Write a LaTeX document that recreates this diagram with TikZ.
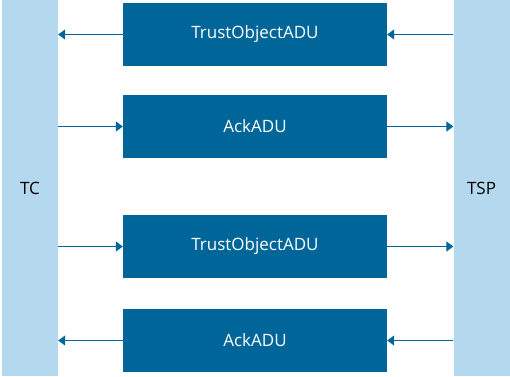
\documentclass[tikz,border=0pt]{standalone}
\usepackage{fontspec}
\setmainfont{Open Sans}
\usetikzlibrary{arrows.meta}
\definecolor{deepblue}{RGB}{0,102,153}
\definecolor{paleblue}{RGB}{180,216,238}
\begin{document}
\begin{tikzpicture}[x=1pt,y=-1pt,
  party/.style={fill=paleblue,draw=none,minimum width=56pt,minimum height=376pt,inner sep=0pt,font=\fontsize{17}{20}\selectfont,text=black},
  msgbox/.style={fill=deepblue,draw=none,minimum width=264pt,minimum height=63pt,inner sep=0pt,font=\fontsize{17}{20}\selectfont,text=white},
  msg/.style={draw=deepblue,line width=1.3pt,-{Triangle[length=7pt,width=10pt]},color=deepblue}]
\useasboundingbox (0,0) rectangle (510,376);
\node[party] (tc) at (30,188) {TC};
\node[party] (tsp) at (481.5,188) {TSP};
\node[msgbox] (m1) at (255,34.5) {TrustObjectADU};
\node[msgbox] (m2) at (255,126.5) {AckADU};
\node[msgbox] (m3) at (255,246.5) {TrustObjectADU};
\node[msgbox] (m4) at (255,340.5) {AckADU};
% left side
\draw[msg] (m1.west) -- (tc.east |- m1.west);
\draw[msg] (tc.east |- m2.west) -- (m2.west);
\draw[msg] (tc.east |- m3.west) -- (m3.west);
\draw[msg] (m4.west) -- (tc.east |- m4.west);
% right side
\draw[msg] (tsp.west |- m1.east) -- (m1.east);
\draw[msg] (m2.east) -- (tsp.west |- m2.east);
\draw[msg] (m3.east) -- (tsp.west |- m3.east);
\draw[msg] (tsp.west |- m4.east) -- (m4.east);
\end{tikzpicture}
\end{document}
